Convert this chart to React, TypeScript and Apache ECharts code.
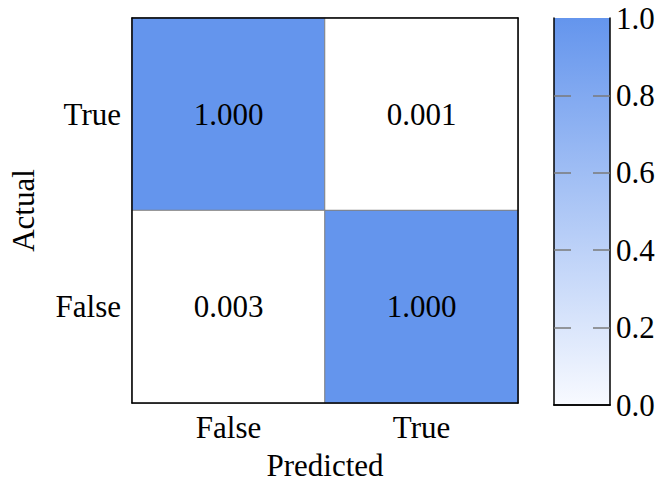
import React, { useEffect, useRef } from "react";
import * as echarts from "echarts";

const predictedLabels = ["False", "True"];
const actualLabels = ["False", "True"];
// [predictedIndex, actualIndex, value]
const cellValues: [number, number, number][] = [
  [0, 1, 1.0],
  [1, 1, 0.001],
  [0, 0, 0.003],
  [1, 0, 1.0],
];
const colorbarTicks = [0.2, 0.4, 0.6, 0.8];
const colorbarLabels = [0, 0.2, 0.4, 0.6, 0.8, 1.0];

const FONT = "'Liberation Serif', 'DejaVu Serif', serif";
const FS = 31;

export default function App() {
  const ref = useRef<HTMLDivElement>(null);
  useEffect(() => {
    if (!ref.current) return;
    const chart = echarts.init(ref.current, null, { renderer: "svg" });
    const frameAxis = {
      axisLine: { show: true, lineStyle: { color: "#000", width: 1.5 } },
      axisTick: { show: false },
      axisLabel: { show: false },
      splitLine: { show: false },
      z: 10,
    };
    const cbTick = {
      show: true,
      inside: true,
      length: 17,
      customValues: colorbarTicks,
      lineStyle: { color: "#7a7a7a", width: 1.5 },
    };
    chart.setOption({
      animation: false,
      textStyle: { fontFamily: FONT },
      grid: [
        { left: 131, top: 18, width: 387, height: 387 },
        { left: 554, top: 18, width: 56, height: 387 },
      ],
      xAxis: [
        {
          type: "category",
          gridIndex: 0,
          data: predictedLabels,
          position: "bottom",
          name: "Predicted",
          nameLocation: "middle",
          nameGap: 47,
          nameTextStyle: { fontFamily: FONT, fontSize: FS, color: "#000" },
          axisLine: { show: true, lineStyle: { color: "#000", width: 1.5 } },
          axisTick: { show: false },
          axisLabel: { fontFamily: FONT, fontSize: FS, color: "#000", margin: 9 },
          splitLine: { show: false },
          z: 10,
        },
        { type: "category", gridIndex: 0, data: predictedLabels, position: "top", ...frameAxis },
        { type: "category", gridIndex: 1, data: [""], position: "bottom", ...frameAxis },
        { type: "category", gridIndex: 1, data: [""], position: "top", ...frameAxis },
      ],
      yAxis: [
        {
          type: "category",
          gridIndex: 0,
          data: actualLabels,
          position: "left",
          name: "Actual",
          nameLocation: "middle",
          nameGap: 93,
          nameTextStyle: { fontFamily: FONT, fontSize: FS, color: "#000" },
          axisLine: { show: true, lineStyle: { color: "#000", width: 1.5 } },
          axisTick: { show: false },
          axisLabel: { fontFamily: FONT, fontSize: FS, color: "#000", margin: 11 },
          splitLine: { show: false },
          z: 10,
        },
        { type: "category", gridIndex: 0, data: actualLabels, position: "right", ...frameAxis },
        {
          type: "value",
          gridIndex: 1,
          min: 0,
          max: 1,
          interval: 0.2,
          position: "right",
          axisLine: { show: true, lineStyle: { color: "#000", width: 1.5 } },
          axisTick: cbTick,
          axisLabel: {
            show: true,
            fontFamily: FONT,
            fontSize: FS,
            color: "#000",
            margin: 6,
            customValues: colorbarLabels,
            formatter: (v: number) => v.toFixed(1),
          },
          splitLine: { show: false },
          z: 10,
        },
        {
          type: "value",
          gridIndex: 1,
          min: 0,
          max: 1,
          interval: 0.2,
          position: "left",
          axisLine: { show: true, lineStyle: { color: "#000", width: 1.5 } },
          axisTick: cbTick,
          axisLabel: { show: false },
          splitLine: { show: false },
          z: 10,
        },
      ],
      visualMap: {
        show: false,
        type: "continuous",
        min: 0,
        max: 1,
        seriesIndex: 0,
        inRange: { color: ["#ffffff", "#6495ed"] },
      },
      series: [
        {
          type: "heatmap",
          xAxisIndex: 0,
          yAxisIndex: 0,
          data: cellValues,
          itemStyle: { borderColor: "#808080", borderWidth: 1 },
          label: {
            show: true,
            fontFamily: FONT,
            fontSize: FS,
            color: "#000",
            formatter: (p: any) => p.value[2].toFixed(3),
          },
          emphasis: { disabled: true },
        },
        {
          type: "bar",
          xAxisIndex: 2,
          yAxisIndex: 2,
          data: [1],
          barWidth: "100%",
          itemStyle: {
            color: {
              type: "linear",
              x: 0,
              y: 0,
              x2: 0,
              y2: 1,
              colorStops: [
                { offset: 0, color: "#6495ed" },
                { offset: 1, color: "#f8faff" },
              ],
            },
          },
          silent: true,
        },
      ],
    });
    return () => chart.dispose();
  }, []);
  return (
    <div
      ref={ref}
      style={{ position: "fixed", left: 0, top: 0, width: 660, height: 486, background: "#fff" }}
    />
  );
}
